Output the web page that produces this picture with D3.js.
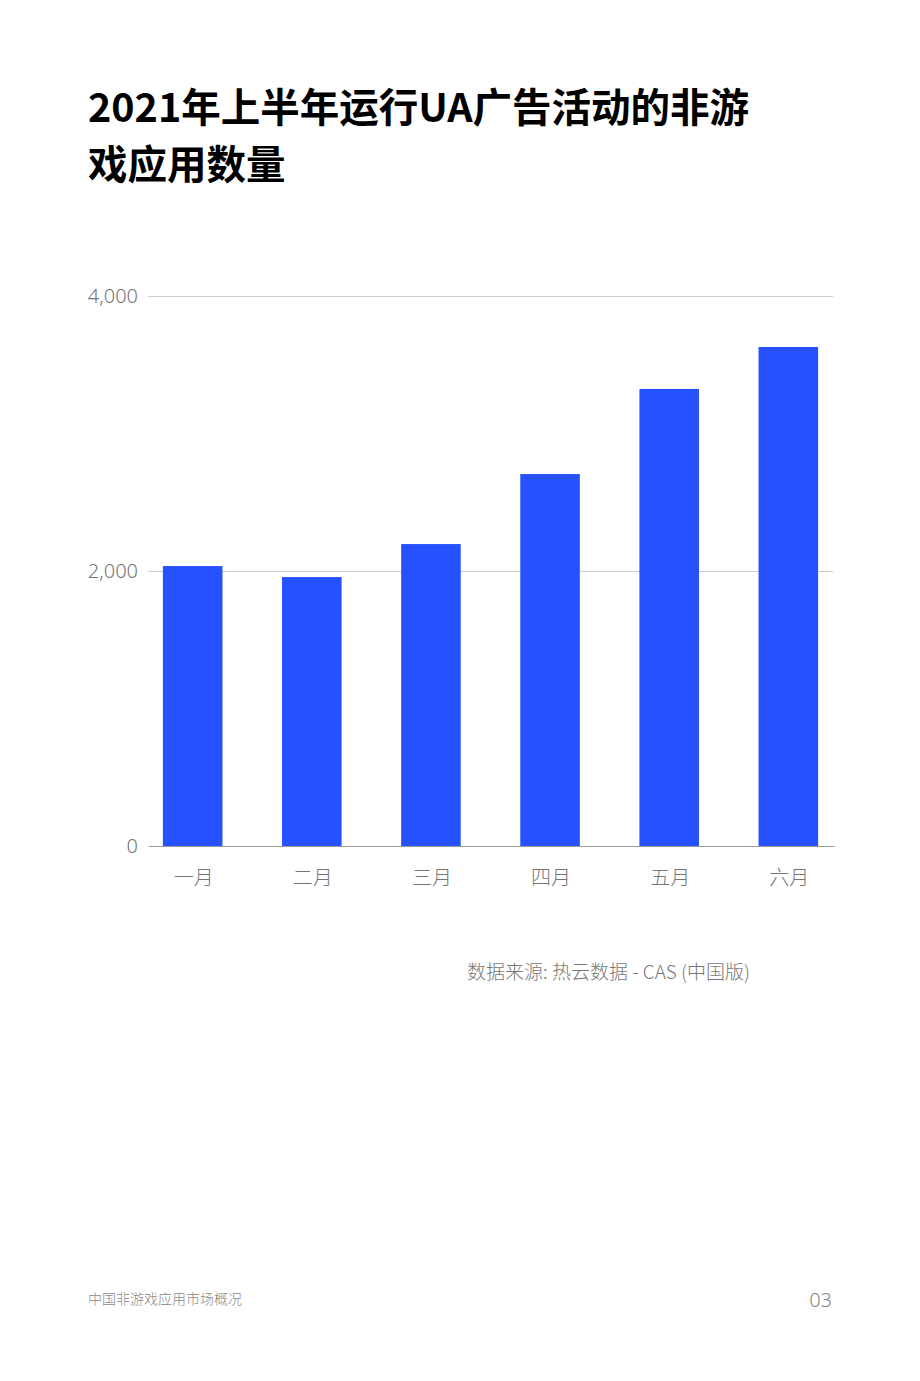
<!DOCTYPE html>
<html>
<head>
<meta charset="utf-8">
<script src="https://cdn.jsdelivr.net/npm/d3@7"></script>
<style>
  body { margin: 0; background: #fff; }
  svg { display: block; font-family: "Noto Sans CJK SC", "Noto Sans", sans-serif; }
</style>
</head>
<body>
<div id="chart"></div>
<script>
const months = ["一月", "二月", "三月", "四月", "五月", "六月"];
const appCounts = [2036, 1956, 2196, 2705, 3324, 3629];
const yTicks = [0, 2000, 4000];
const titleLines = ["2021年上半年运行UA广告活动的非游", "戏应用数量"];
const sourceText = "数据来源: 热云数据 - CAS (中国版)";
const footerText = "中国非游戏应用市场概况";
const pageNumber = "03";

const width = 920;
const height = 1381;
const margin = { top: 296, right: 87, bottom: 535, left: 148 };

const svg = d3.select("#chart").append("svg")
    .attr("width", width)
    .attr("height", height);

// title
svg.append("g")
    .selectAll("text")
    .data(titleLines)
    .join("text")
    .attr("x", 88)
    .attr("y", (d, i) => 122 + i * 57)
    .style("font-size", "39.5px")
    .style("font-weight", "bold")
    .style("fill", "#000")
    .text(d => d);

const x = d3.scaleBand()
    .domain(months)
    .range([margin.left, width - margin.right])
    .paddingInner(0.5)
    .paddingOuter(0.125);

const y = d3.scaleLinear()
    .domain([0, 4000])
    .range([height - margin.bottom, margin.top]);

// gridlines
svg.append("g")
    .attr("transform", `translate(${margin.left},0)`)
    .call(d3.axisLeft(y)
        .tickValues(yTicks)
        .tickSize(-(width - margin.right - margin.left))
        .tickFormat(d3.format(",")))
    .call(g => g.select(".domain").remove())
    .call(g => g.selectAll(".tick line").attr("stroke", "#cccccc"))
    .call(g => g.selectAll(".tick text")
        .attr("x", -10)
        .style("font-family", "'Noto Sans', sans-serif")
        .style("font-weight", 300)
        .style("font-size", "20px")
        .style("fill", "#757575"));

// bars
svg.append("g")
    .selectAll("rect")
    .data(appCounts)
    .join("rect")
    .attr("x", (d, i) => x(months[i]))
    .attr("y", d => y(d))
    .attr("width", x.bandwidth())
    .attr("height", d => y(0) - y(d))
    .attr("fill", "#2651ff");

// x axis
svg.append("g")
    .attr("transform", `translate(1,${height - margin.bottom})`)
    .call(d3.axisBottom(x).tickSize(0).tickPadding(25))
    .call(g => g.select(".domain").attr("stroke", "#999999"))
    .call(g => g.selectAll(".tick text")
        .style("font-family", "'Noto Sans CJK SC', sans-serif")
        .style("font-weight", 300)
        .style("font-size", "20px")
        .style("fill", "#757575"));

// source
svg.append("text")
    .attr("x", 750)
    .attr("y", 979)
    .attr("text-anchor", "end")
    .style("font-size", "19px")
    .style("font-weight", 300)
    .style("fill", "#777777")
    .text(sourceText);

// footer
svg.append("text")
    .attr("x", 88)
    .attr("y", 1304)
    .style("font-size", "14px")
    .style("font-weight", 300)
    .style("fill", "#888888")
    .text(footerText);

svg.append("text")
    .attr("x", 832)
    .attr("y", 1307)
    .attr("text-anchor", "end")
    .style("font-family", "'Noto Sans', sans-serif")
    .style("font-size", "20px")
    .style("font-weight", 300)
    .style("fill", "#888888")
    .text(pageNumber);
</script>
</body>
</html>
